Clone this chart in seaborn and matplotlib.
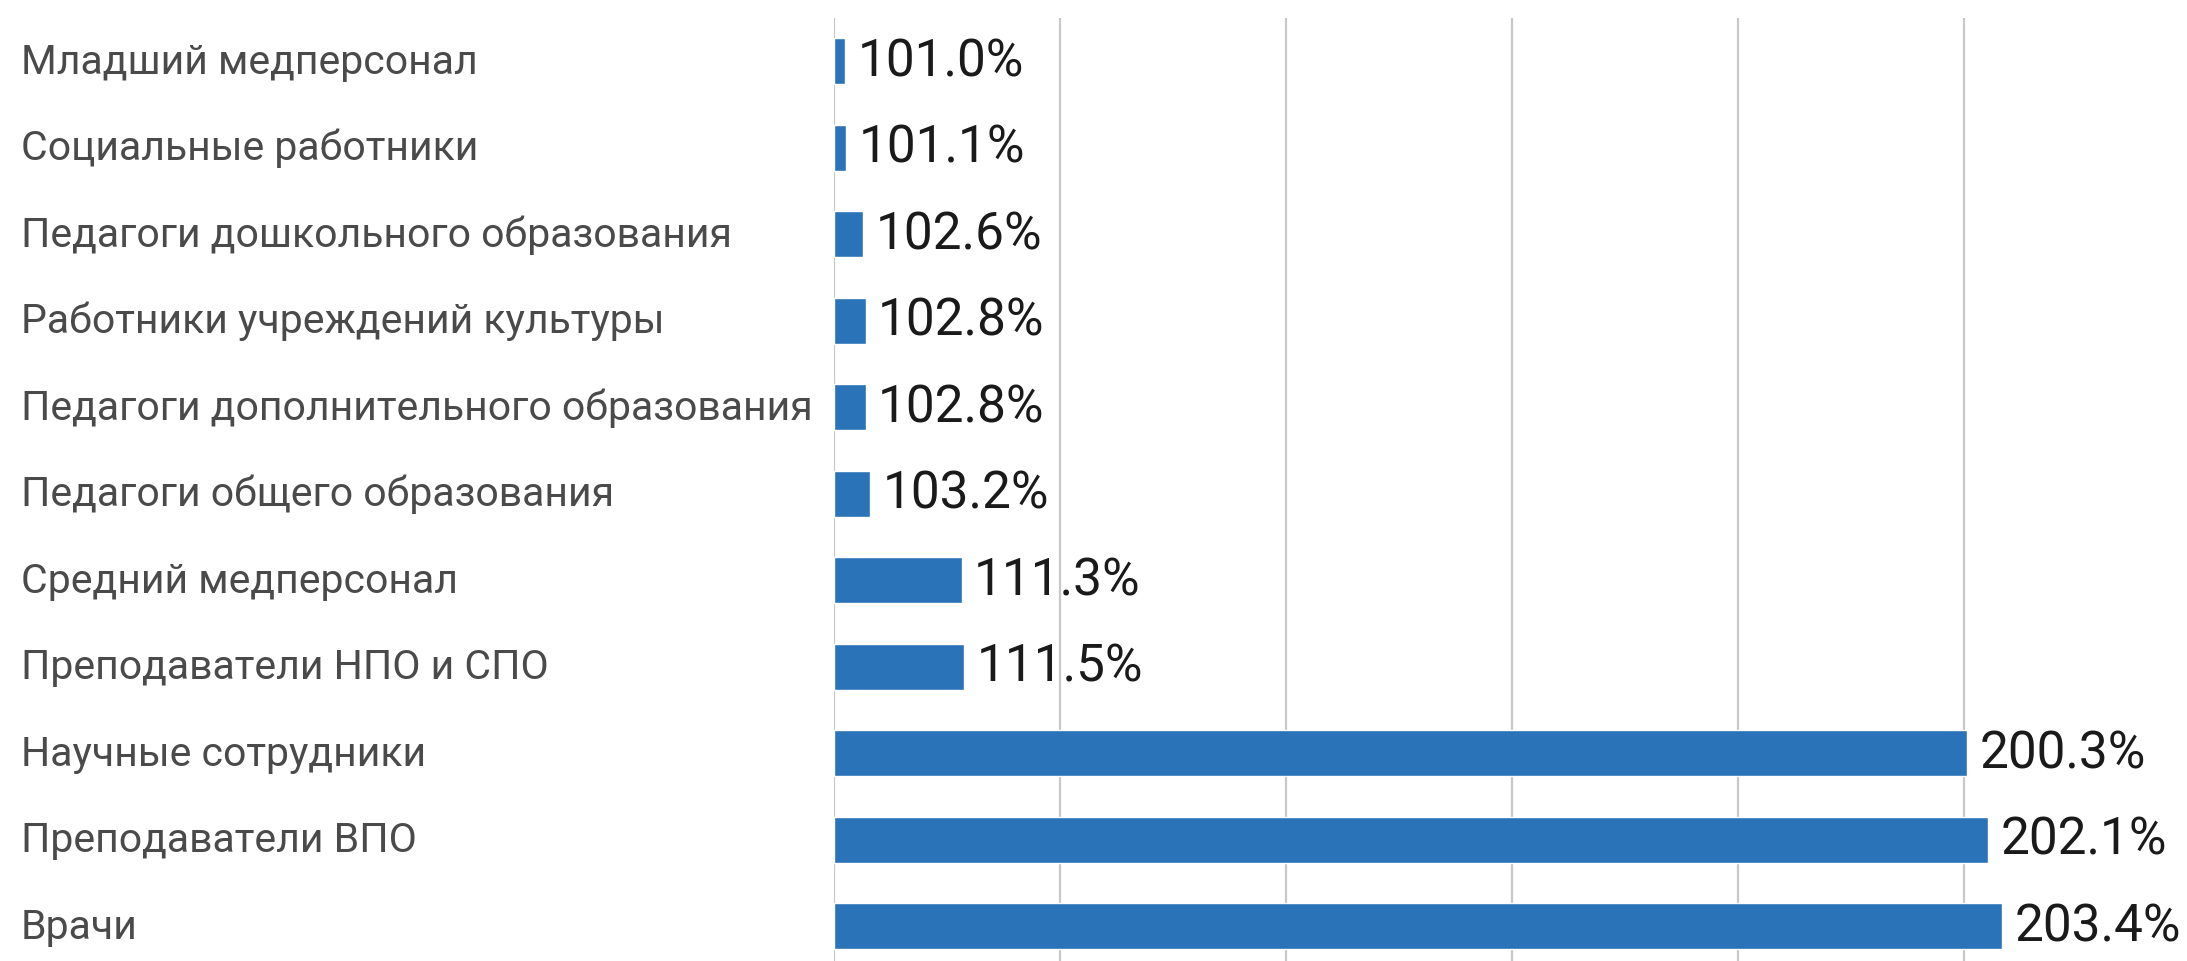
import matplotlib
matplotlib.use("Agg")
import matplotlib.pyplot as plt
import matplotlib.transforms as mtransforms
import seaborn as sns
import pandas as pd

categories = [
    "Младший медперсонал",
    "Социальные работники",
    "Педагоги дошкольного образования",
    "Работники учреждений культуры",
    "Педагоги дополнительного образования",
    "Педагоги общего образования",
    "Средний медперсонал",
    "Преподаватели НПО и СПО",
    "Научные сотрудники",
    "Преподаватели ВПО",
    "Врачи",
]
values = [101.0, 101.1, 102.6, 102.8, 102.8, 103.2, 111.3, 111.5, 200.3, 202.1, 203.4]
x_ticks = [100, 120, 140, 160, 180, 200, 220]

sns.set_theme(style="white")
plt.rcParams['font.family'] = ['Roboto', 'DejaVu Sans']

df = pd.DataFrame({"cat": categories, "val": values})

W, H = 2187, 962
fig = plt.figure(figsize=(W / 100, H / 100), dpi=100)
ax_left = 834 / W
ax_top = 1 - 19 / H
ax_h = 11 * 86.5 / H
ax = fig.add_axes([ax_left, ax_top - ax_h, 1 - ax_left + 3 / W, ax_h])

base = 100
bar_color = "#2a73b8"
sns.barplot(data=df, y="cat", x=df["val"] - base, left=base, orient="h",
            color=bar_color, width=0.53, ax=ax, saturation=1)

ax.set_xlim(100, 220)
ax.set_ylim(len(categories) - 0.5, -0.5)
ax.set_xticks(x_ticks)
ax.xaxis.grid(True, color="#c8c8c8", linewidth=1.6)
ax.set_axisbelow(True)
for s in ax.spines.values():
    s.set_visible(False)
ax.tick_params(axis="both", length=0, labelbottom=False, labelleft=False)
ax.set_xlabel("")
ax.set_ylabel("")

trans = mtransforms.blended_transform_factory(fig.transFigure, ax.transData)
for i, (c, v) in enumerate(zip(categories, values)):
    ax.text(21 / W, i, c, transform=trans, ha="left", va="center",
            fontsize=29.5, color="#4a4a4a")
    ax.annotate(f"{v:.1f}%", xy=(v, i), xytext=(9, 0), textcoords="offset points",
                ha="left", va="center", fontsize=37, color="#1a1a1a")

fig.savefig("out.png", dpi=100, facecolor="white")
